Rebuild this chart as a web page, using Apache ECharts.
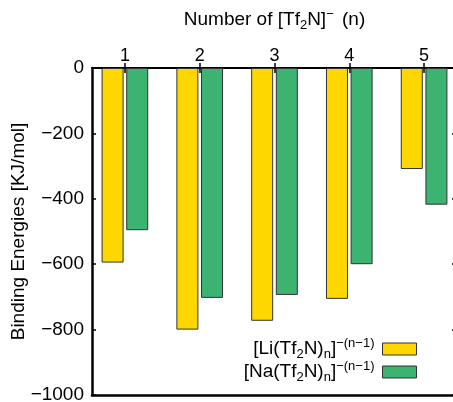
<!DOCTYPE html>
<html>
<head>
<meta charset="utf-8">
<script src="https://cdn.jsdelivr.net/npm/echarts@6/dist/echarts.min.js"></script>
<style>
  html, body { margin: 0; padding: 0; background: #fff; }
  #chart { width: 453px; height: 402px; }
</style>
</head>
<body>
<div id="chart"></div>
<script>
// Cluster size n (number of Tf2N anions)
var clusterSizes = [1, 2, 3, 4, 5];
// Binding energies in kJ/mol
var liEnergies = [-595, -800, -773, -706, -309];
var naEnergies = [-496, -703, -694, -600, -418];
// Energy axis ticks
var energyTicks = [0, -200, -400, -600, -800, -1000];

var FONT = 'Liberation Sans, Arial, Helvetica, sans-serif';

var richStyles = {
  n:   { fontSize: 19, lineHeight: 24, fontFamily: FONT, color: '#000' },
  sub: { fontSize: 13, lineHeight: 12, verticalAlign: 'bottom', fontFamily: FONT, color: '#000' },
  sup: { fontSize: 13, lineHeight: 12, verticalAlign: 'top', fontFamily: FONT, color: '#000', padding: [0, 3, 0, 0] }
};

var legendLabels = {
  Li: '{n|[Li(Tf}{sub|2}{n|N)}{sub|n}{n|]}{sup|\u2212(n\u22121)}',
  Na: '{n|[Na(Tf}{sub|2}{n|N)}{sub|n}{n|]}{sup|\u2212(n\u22121)}'
};

function toPairs(xs, ys) {
  return xs.map(function (x, i) { return [x, ys[i]]; });
}

function minusLabel(v) {
  return v < 0 ? '\u2212' + Math.abs(v) : String(v);
}

var chart = echarts.init(document.getElementById('chart'), null, { renderer: 'canvas' });

var xMin = 0.56, xMax = 5.44;

chart.setOption({
  animation: false,
  backgroundColor: '#fff',
  grid: { left: 92, top: 68, width: 365, height: 327, containLabel: false, outerBoundsMode: 'none' },
  legend: {
    orient: 'vertical',
    align: 'right',
    right: 36,
    top: 337,
    padding: 0,
    itemWidth: 34,
    itemHeight: 12,
    itemGap: -1,
    icon: 'rect',
    itemStyle: { borderColor: '#333', borderWidth: 1 },
    formatter: function (name) { return legendLabels[name]; },
    textStyle: { rich: richStyles }
  },
  xAxis: [
    {
      type: 'value',
      position: 'top',
      min: xMin,
      max: xMax,
      name: '{n|Number of [Tf}{sub|2}{n|N]}{sup|\u2212}{n| (n)}',
      nameLocation: 'middle',
      nameGap: 36,
      nameTextStyle: { rich: richStyles },
      axisLine: { show: true, onZero: false, lineStyle: { color: '#000', width: 2 } },
      axisTick: { show: true, inside: true, length: 5, customValues: clusterSizes, lineStyle: { color: '#000', width: 1.5 } },
      axisLabel: { show: true, customValues: clusterSizes, fontSize: 18, fontFamily: FONT, color: '#000', margin: 3 },
      splitLine: { show: false }
    },
    {
      type: 'value',
      position: 'top',
      min: xMin,
      max: xMax,
      axisLine: { show: false },
      axisTick: { show: true, inside: false, length: 5, customValues: clusterSizes, lineStyle: { color: '#000', width: 1.5 } },
      axisLabel: { show: false },
      splitLine: { show: false }
    },
    {
      type: 'value',
      position: 'bottom',
      min: xMin,
      max: xMax,
      axisLine: { show: true, onZero: false, lineStyle: { color: '#000', width: 2.5 } },
      axisTick: { show: false },
      axisLabel: { show: false },
      splitLine: { show: false }
    }
  ],
  yAxis: [
    {
      type: 'value',
      position: 'left',
      min: -1000,
      max: 0,
      interval: 200,
      name: 'Binding Energies [KJ/mol]',
      nameLocation: 'middle',
      nameGap: 64,
      nameMoveOverlap: false,
      nameTextStyle: { fontSize: 19, fontFamily: FONT, color: '#000' },
      axisLine: { show: true, onZero: false, lineStyle: { color: '#000', width: 2.5 } },
      axisTick: { show: true, inside: true, length: 4, customValues: energyTicks, lineStyle: { color: '#000', width: 1.5 } },
      axisLabel: { customValues: energyTicks, formatter: minusLabel, fontSize: 19, fontFamily: FONT, color: '#000', margin: 8 },
      splitLine: { show: false }
    },
    {
      type: 'value',
      position: 'right',
      min: -1000,
      max: 0,
      interval: 200,
      axisLine: { show: true, onZero: false, lineStyle: { color: '#000', width: 2.5 } },
      axisTick: { show: true, inside: true, length: 5, customValues: energyTicks, lineStyle: { color: '#000', width: 1.5 } },
      axisLabel: { show: false },
      splitLine: { show: false }
    }
  ],
  series: [
    {
      name: 'Li',
      type: 'bar',
      xAxisIndex: 0,
      yAxisIndex: 0,
      barWidth: 22,
      barGap: '12%',
      data: toPairs(clusterSizes, liEnergies),
      itemStyle: { color: '#FFD700', borderColor: '#333', borderWidth: 1 }
    },
    {
      name: 'Na',
      type: 'bar',
      xAxisIndex: 0,
      yAxisIndex: 0,
      barWidth: 22,
      barGap: '12%',
      data: toPairs(clusterSizes, naEnergies),
      itemStyle: { color: '#3CB371', borderColor: '#333', borderWidth: 1 }
    }
  ]
});
</script>
</body>
</html>
